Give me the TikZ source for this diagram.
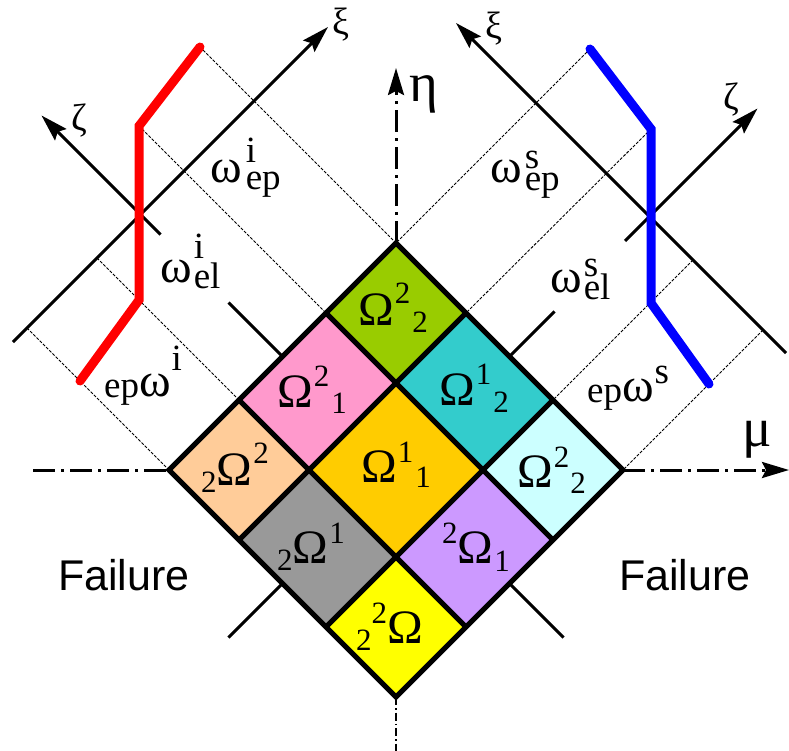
\documentclass[tikz,border=0pt]{standalone}
\usepackage{fontspec}
\setmainfont{Liberation Serif}
\newfontfamily\serf{Liberation Serif}
\newfontfamily\sansf{Liberation Sans}
\usetikzlibrary{arrows.meta}
\definecolor{cgreen}{HTML}{99CC00}
\definecolor{cpink}{HTML}{FF99CC}
\definecolor{cpeach}{HTML}{FFCC99}
\definecolor{cteal}{HTML}{33CCCC}
\definecolor{corange}{HTML}{FFCC00}
\definecolor{cgray}{HTML}{999999}
\definecolor{ccyan}{HTML}{CCFFFF}
\definecolor{cpurple}{HTML}{CC99FF}
\definecolor{cyellow}{HTML}{FFFF00}
\definecolor{cred}{HTML}{FF0000}
\definecolor{cblue}{HTML}{0000FF}
\newcommand{\OmF}{\serf\fontsize{48}{50}\selectfont}
\newcommand{\omF}{\serf\fontsize{48}{50}\selectfont}
\newcommand{\ScF}{\serf\fontsize{31}{33}\selectfont}
\newcommand{\ScW}{\serf\fontsize{37}{39}\selectfont}
\newcommand{\AxF}{\serf\fontsize{38}{40}\selectfont}
\newcommand{\BigAxF}{\serf\fontsize{55}{57}\selectfont}
% scripts for Omega labels
\newcommand{\Sc}[2]{\raisebox{#1}{\ScF #2}}
% scripts for omega labels
\newcommand{\Sw}[2]{\raisebox{#1}{\ScW #2}}
\newcommand{\Swl}[2]{\rlap{\raisebox{#1}{\ScW #2}}}
\newcommand{\cellfill}[5]{\fill[#5] (#1,#3) -- (#2,#3) -- (#2,#4) -- (#1,#4) -- cycle;}
\begin{document}
\begin{tikzpicture}[x=1pt,y=-1pt,
  lab/.style={inner sep=0pt, anchor=base west},
  axlab/.style={inner sep=0pt, font=\AxF},
  axis/.style={line width=3pt},
  proj/.style={line width=0.9pt, dash pattern=on 3pt off 1.5pt},
  dashdot/.style={line width=3pt, dash pattern=on 22pt off 6pt on 3pt off 6pt},
  thindd/.style={line width=1.3pt, dash pattern=on 8pt off 3pt on 1.5pt off 3pt},
  tip/.style={-{Stealth[length=27pt,width=16pt,inset=4pt]}},
  gridline/.style={line width=5pt},
  redline/.style={line width=9pt, color=cred, line cap=round},
  blueline/.style={line width=9pt, color=cblue, line cap=round},
  failtext/.style={inner sep=0pt, anchor=base west, font=\sansf\fontsize{43}{45}\selectfont}
]
\useasboundingbox (0,0) rectangle (789,751);

% rotated frame: s along NE, t along SE, origin at the left vertex
\begin{scope}[shift={(169,470)}, x={(1pt,1pt)}, y={(1pt,-1pt)}]
\coordinate (T) at (227,0);
\coordinate (L) at (0,0);
\coordinate (R) at (227,227);
\coordinate (B) at (0,227);
\coordinate (rA) at (227,-196);
\coordinate (rB) at (157,-187);
\coordinate (rC) at (70,-100);
\coordinate (rD) at (0,-89);
\coordinate (v1) at (157,0);
\coordinate (v2) at (70,0);
\coordinate (w1) at (227,70);
\coordinate (w2) at (227,157);
\coordinate (p3) at (70,-142);
\coordinate (p4) at (0,-142);
\coordinate (q3) at (367,157);
\coordinate (q4) at (367,227);
\coordinate (lxi0) at (-14,-142);
\coordinate (lxi1) at (301,-142);
\coordinate (lze0) at (113.5,-122);
\coordinate (lze1) at (113.5,-241);
\coordinate (lzs0) at (113.5,0);
\coordinate (lzs1) at (113.5,-54);
\coordinate (rxi0) at (367,250);
\coordinate (rxi1) at (367,-80);
\coordinate (rze0) at (342.5,113.5);
\coordinate (rze1) at (475,113.5);
\coordinate (rzs0) at (227,113.5);
\coordinate (rzs1) at (272,113.5);
\coordinate (sw0) at (0,113.5);
\coordinate (sw1) at (-54,113.5);
\coordinate (se0) at (113.5,227);
\coordinate (se1) at (113.5,281);
\end{scope}

\coordinate (bA) at (590,49);
\coordinate (bB) at (651,129);
\coordinate (bC) at (651,303);
\coordinate (bD) at (709,384);
\coordinate (etaT) at (396,68);
\coordinate (muT) at (789,470);
\coordinate (lh) at (33,470);
\coordinate (bot) at (396,751);

% projection lines
\draw[proj] (rA) -- (T);
\draw[proj] (rB) -- (v1);
\draw[proj] (p3) -- (v2);
\draw[proj] (p4) -- (L);
\draw[proj] (bA) -- (T);
\draw[proj] (bB) -- (w1);
\draw[proj] (q3) -- (w2);
\draw[proj] (q4) -- (R);

% xi / zeta axes
\draw[axis,tip] (lxi0) -- (lxi1);
\draw[axis,tip] (lze0) -- (lze1);
\draw[axis] (lzs0) -- (lzs1);
\draw[axis,tip] (rxi0) -- (rxi1);
\draw[axis,tip] (rze0) -- (rze1);
\draw[axis] (rzs0) -- (rzs1);
\draw[axis] (sw0) -- (sw1);
\draw[axis] (se0) -- (se1);

% eta, mu axes
\draw[dashdot,tip] (T) -- (etaT);
\draw[dashdot,tip] (R) -- (muT);
\draw[dashdot] (lh) -- (L);
\draw[thindd] (B) -- (bot);

% cells
\begin{scope}[shift={(169,470)}, x={(1pt,1pt)}, y={(1pt,-1pt)}]
\cellfill{157}{227}{0}{70}{cgreen}
\cellfill{70}{157}{0}{70}{cpink}
\cellfill{0}{70}{0}{70}{cpeach}
\cellfill{157}{227}{70}{157}{cteal}
\cellfill{70}{157}{70}{157}{corange}
\cellfill{0}{70}{70}{157}{cgray}
\cellfill{157}{227}{157}{227}{ccyan}
\cellfill{70}{157}{157}{227}{cpurple}
\cellfill{0}{70}{157}{227}{cyellow}
\draw[gridline] (70,0) -- (70,227);
\draw[gridline] (157,0) -- (157,227);
\draw[gridline] (0,70) -- (227,70);
\draw[gridline] (0,157) -- (227,157);
\draw[gridline] (0,0) -- (227,0) -- (227,227) -- (0,227) -- cycle;
\end{scope}

% red and blue polylines
\draw[redline] (rA) -- (rB) -- (rC) -- (rD);
\draw[blueline] (bA) -- (bB) -- (bC) -- (bD);

% axis labels
\node[axlab] (xiL) at (341,25) {ξ};
\node[axlab] (zeL) at (79,121) {ζ};
\node[axlab] (xiR) at (494,29) {ξ};
\node[axlab] (zeR) at (731,100) {ζ};
\node[inner sep=0pt, anchor=base west, font=\BigAxF] (eta) at (409,102) {η};
\node[inner sep=0pt, anchor=base west, font=\BigAxF] (mu) at (742,446) {μ};

% omega labels
\node[lab] (wiep) at (210,183) {{\omF ω}\kern4pt\Swl{20pt}{i}\Sw{-7pt}{ep}};
\node[lab] (wiel) at (160,282) {{\omF ω}\kern2pt\Swl{24pt}{i}\Sw{-6pt}{el}};
\node[lab] (epwi) at (104,396) {\Sw{-1pt}{ep}{\omF ω}\kern1pt\Sw{26pt}{i}};
\node[lab] (wsep) at (490,183) {{\omF ω}\kern3pt\Swl{14pt}{s}\Sw{-8pt}{ep}};
\node[lab] (wsel) at (550,292) {{\omF ω}\kern2pt\Swl{16pt}{s}\Sw{-7pt}{el}};
\node[lab] (epws) at (587,401) {\Sw{-1pt}{ep}{\omF ω}\kern1pt\Sw{18pt}{s}};

% Omega labels
\node[lab] (O22t) at (358,325) {{\OmF Ω}\kern1pt\Sc{22pt}{2}\kern2pt\Sc{-7pt}{2}};
\node[lab] (O21) at (277,407) {{\OmF Ω}\kern1pt\Sc{21pt}{2}\kern2pt\Sc{-6pt}{1}};
\node[lab] (O12) at (439,405) {{\OmF Ω}\kern1pt\Sc{21pt}{1}\kern2pt\Sc{-7pt}{2}};
\node[lab] (pO2) at (201,485) {\Sc{-7pt}{2}{\OmF Ω}\kern1pt\Sc{22pt}{2}};
\node[lab] (O11) at (361,482) {{\OmF Ω}\kern1pt\Sc{20pt}{1}\kern2pt\Sc{-5pt}{1}};
\node[lab] (O22r) at (517,487) {{\OmF Ω}\kern1pt\Sc{20pt}{2}\kern1pt\Sc{-6pt}{2}};
\node[lab] (pO1) at (277,563) {\Sc{-7pt}{2}{\OmF Ω}\kern1pt\Sc{20pt}{1}};
\node[lab] (qO1) at (442,563) {\Sc{20pt}{2}{\OmF Ω}\kern1pt\Sc{-8pt}{1}};
\node[lab] (ppO) at (356,643) {\Sc{-7pt}{2}\Sc{20pt}{2}{\OmF Ω}};

% Failure
\node[failtext] (failL) at (58,590) {Failure};
\node[failtext] (failR) at (619,590) {Failure};
\end{tikzpicture}
\end{document}
